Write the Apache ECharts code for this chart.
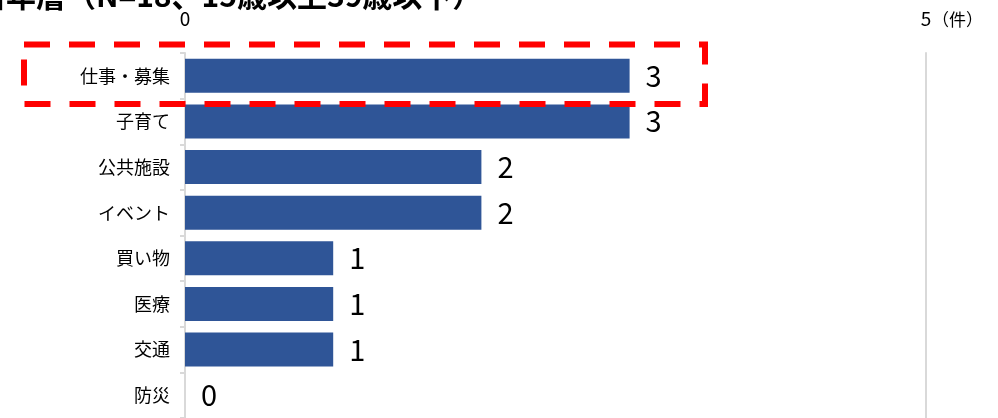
<!DOCTYPE html>
<html>
<head>
<meta charset="utf-8">
<script src="https://cdn.jsdelivr.net/npm/echarts@6/dist/echarts.min.js"></script>
<style>
  html, body { margin: 0; padding: 0; background: #fff; }
  #chart { width: 998px; height: 418px; }
</style>
</head>
<body>
<div id="chart"></div>
<script>
// 分野別の件数（若年層）
const categories = ['仕事・募集', '子育て', '公共施設', 'イベント', '買い物', '医療', '交通', '防災'];
const counts = [3, 3, 2, 2, 1, 1, 1, 0];
const titleText = '若年層（N=18、15歳以上39歳以下）';
const unitText = '（件）';
const axisMin = 0;
const axisMax = 5;
const xTickValues = [0, 5];

const FONT = '"Noto Sans CJK JP", "Noto Sans", sans-serif';
const chart = echarts.init(document.getElementById('chart'));

chart.setOption({
  backgroundColor: '#ffffff',
  animation: false,
  grid: { left: 185, right: 72, top: 53, height: 370 },
  xAxis: {
    type: 'value',
    min: axisMin,
    max: axisMax,
    interval: axisMax - axisMin,
    axisLine: { show: false },
    axisTick: { show: false },
    axisLabel: { show: false },
    splitLine: { show: false }
  },
  yAxis: [{
    type: 'category',
    data: categories,
    inverse: true,
    axisLine: { show: true, lineStyle: { color: '#d9d9d9', width: 2 } },
    axisTick: { show: true, length: 5, lineStyle: { color: '#d9d9d9', width: 2 } },
    axisLabel: { margin: 15, fontSize: 18, color: '#000', fontFamily: FONT },
    splitLine: { show: false }
  }, {
    type: 'category',
    data: categories,
    inverse: true,
    position: 'right',
    axisLine: { show: true, lineStyle: { color: '#d9d9d9', width: 2 } },
    axisTick: { show: false },
    axisLabel: { show: false },
    splitLine: { show: false }
  }],
  series: [{
    type: 'bar',
    data: counts,
    yAxisIndex: 0,
    barWidth: 34,
    itemStyle: { color: '#2F5597' },
    label: {
      show: true,
      position: 'right',
      distance: 16,
      fontSize: 29,
      color: '#000',
      fontFamily: FONT
    }
  }]
});

// 上部の目盛りラベル：横軸のスケールで位置を求めて配置する
const tickLabels = [];
xTickValues.forEach(function (v) {
  const px = chart.convertToPixel({ xAxisIndex: 0 }, v);
  tickLabels.push({
    type: 'text',
    x: px,
    y: 28,
    style: {
      text: String(v),
      fontSize: 19,
      fontFamily: FONT,
      fill: '#000',
      align: 'center',
      verticalAlign: 'bottom',
      textAlign: 'center',
      textVerticalAlign: 'bottom'
    }
  });
  if (v === axisMax) {
    tickLabels.push({
      type: 'text',
      x: px + 6,
      y: 28,
      style: {
        text: unitText,
        fontSize: 17,
        fontFamily: FONT,
        fill: '#000',
        align: 'left',
        verticalAlign: 'bottom',
        textAlign: 'left',
        textVerticalAlign: 'bottom'
      }
    });
  }
});

chart.setOption({
  graphic: [{
    type: 'text',
    left: -24,
    top: -19,
    style: {
      text: titleText,
      fontSize: 30,
      fontWeight: 'bold',
      fill: '#000',
      fontFamily: FONT
    }
  }, {
    // 注目項目を囲む赤い破線枠
    type: 'rect',
    shape: { x: 24, y: 44.5, width: 681, height: 59.5 },
    style: {
      fill: 'none',
      stroke: '#ff0000',
      lineWidth: 6,
      lineDash: [26, 19]
    },
    z: 100
  }].concat(tickLabels)
});
</script>
</body>
</html>
